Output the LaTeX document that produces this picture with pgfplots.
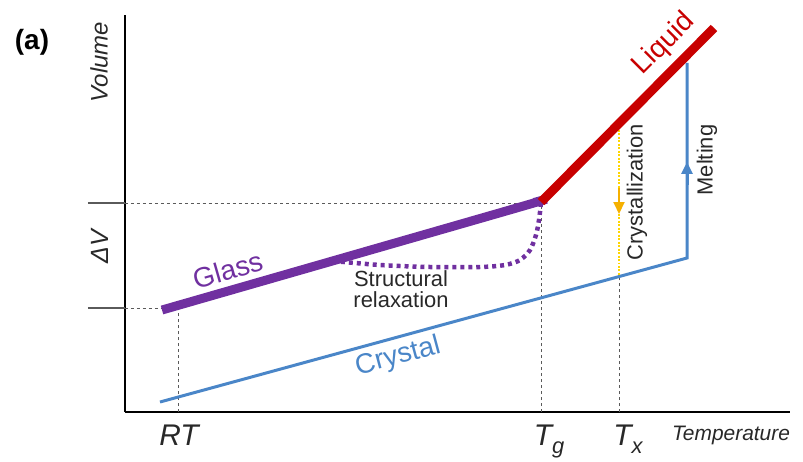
\documentclass[border=0pt]{standalone}
\usepackage{pgfplots}
\pgfplotsset{compat=1.18}
\usepackage{fontspec}
\setmainfont{Liberation Sans}
\usetikzlibrary{arrows.meta}
\definecolor{glasscol}{RGB}{112,48,160}
\definecolor{liqcol}{RGB}{200,0,0}
\definecolor{cryscol}{RGB}{74,134,200}
\definecolor{yelcol}{RGB}{255,214,0}
\definecolor{arrcol}{RGB}{245,176,0}
\definecolor{dashcol}{RGB}{90,90,90}
\definecolor{txtcol}{RGB}{40,40,40}
\begin{document}
\begin{tikzpicture}
\begin{axis}[
  scale only axis, width=665bp, height=397bp,
  xmin=125, xmax=790, ymin=48, ymax=445,
  axis x line*=bottom, axis y line*=left,
  axis line style={line width=2.5bp, black},
  xtick=\empty, ytick=\empty, clip=false,
]
\path (axis cs:0,0) rectangle (axis cs:803,460);
% reference lines
\addplot[dashcol, line width=1.5pt] coordinates {(88,257)(125,257)};
\addplot[dashcol, line width=1.5pt] coordinates {(88,152)(125,152)};
\addplot[dashcol, line width=1pt, dash pattern=on 3pt off 3pt] coordinates {(125,257)(541,257)};
\addplot[dashcol, line width=1pt, dash pattern=on 3pt off 3pt] coordinates {(125,152)(162,152)};
\addplot[dashcol, line width=1pt, dash pattern=on 3pt off 3pt] coordinates {(178,48)(178,154)};
\addplot[dashcol, line width=1pt, dash pattern=on 3pt off 3pt] coordinates {(541,48)(541,257)};
\addplot[dashcol, line width=1pt, dash pattern=on 3pt off 3pt] coordinates {(619,48)(619,184)};
% crystal
\addplot[cryscol, line width=3pt] coordinates {(160,58)(687,202)(687,397)};
\addplot[cryscol, line width=3pt, -{Triangle[length=12pt,width=11pt]}] coordinates {(687,275)(687,298)};
% crystallization
\addplot[yelcol, line width=2.2pt, dash pattern=on 2pt off 1.5pt] coordinates {(619,330)(619,185)};
\addplot[arrcol, line width=2pt, -{Triangle[length=12pt,width=11pt]}] coordinates {(619,272)(619,246)};
% relaxation
\addplot[glasscol, line width=4.5pt, dash pattern=on 4pt off 4pt, smooth] coordinates {(333,199)(380,195)(430,193)(480,193)(505,195)(520,200)(530,210)(536,225)(539,240)(541,257)};
% glass
\addplot[glasscol, line width=9pt, smooth] coordinates {(162,150)(520,253)(534,257.5)(542,259)};
% liquid
\addplot[liqcol, line width=9pt] coordinates {(541,258)(714,432)};
% labels
\node[font=\bfseries\fontsize{28}{30}\selectfont] at (axis cs:32,418) {(a)};
\node[font=\itshape\fontsize{24}{26}\selectfont, rotate=90, txtcol] at (axis cs:99,398) {Volume};
\node[font=\itshape\fontsize{25}{27}\selectfont, rotate=90, txtcol] at (axis cs:100,213) {ΔV};
\node[font=\itshape\fontsize{30}{32}\selectfont, anchor=base, txtcol] at (axis cs:179,15) {RT};
\node[font=\itshape\fontsize{30}{32}\selectfont, anchor=base, txtcol] at (axis cs:549,15) {T\raisebox{-0.3em}{\fontsize{22}{24}\selectfont g}};
\node[font=\itshape\fontsize{30}{32}\selectfont, anchor=base, txtcol] at (axis cs:628,15) {T\raisebox{-0.3em}{\fontsize{22}{24}\selectfont x}};
\node[font=\itshape\fontsize{21}{23}\selectfont, anchor=base, txtcol] at (axis cs:731,20) {Temperature};
\node[font=\fontsize{28}{30}\selectfont, rotate=16, glasscol] at (axis cs:228,190) {Glass};
\node[font=\fontsize{28}{30}\selectfont, rotate=45, liqcol] at (axis cs:664,416) {Liquid};
\node[font=\fontsize{28}{30}\selectfont, rotate=15, cryscol] at (axis cs:398,103) {Crystal};
\node[font=\fontsize{22}{21}\selectfont, align=center, txtcol] at (axis cs:401,171) {Structural\\relaxation};
\node[font=\fontsize{22}{24}\selectfont, rotate=90, txtcol] at (axis cs:637,268) {Crystallization};
\node[font=\fontsize{22}{24}\selectfont, rotate=90, txtcol] at (axis cs:707,300) {Melting};
\end{axis}
\end{tikzpicture}
\end{document}
